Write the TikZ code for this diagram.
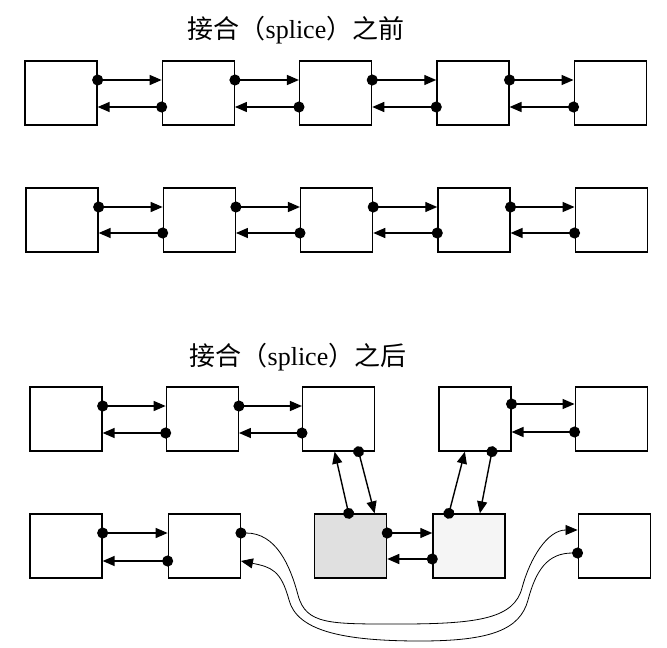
\documentclass[tikz,border=0pt]{standalone}
\usepackage{fontspec}
\setmainfont{Liberation Serif}
\newfontfamily\cjk{Noto Sans CJK SC}
\usetikzlibrary{arrows.meta, positioning}

\begin{document}
\begin{tikzpicture}[
    x=1pt, y=-1pt,
    node distance=64pt,
    >={Triangle[length=12pt,width=10pt]},
    cell/.style={rectangle, draw=black, line width=1.3pt, minimum width=72pt, minimum height=64pt, inner sep=0pt},
    shaded/.style={cell, fill=black!12},
    title/.style={font=\fontsize{26}{30}\selectfont},
    link/.style={{Circle[length=11pt]}->, line width=1.4pt, shorten <=-5.5pt},
    wire/.style={{Circle[length=11pt]}->, line width=0.8pt, shorten <=-5.5pt}
]
\useasboundingbox (0,0) rectangle (667,648);

% 1. before
\node[title] (before) at (296,30) {{\cjk 接合（}splice{\cjk ）之前}};

\node[cell] (a1) at (61,93) {};
\node[cell, right=of a1] (a2) {};
\node[cell, right=of a2] (a3) {};
\node[cell, right=of a3] (a4) {};
\node[cell, right=of a4] (a5) {};

\node[cell] (b1) at (62,220) {};
\node[cell, right=of b1] (b2) {};
\node[cell, right=of b2] (b3) {};
\node[cell, right=of b3] (b4) {};
\node[cell, right=of b4] (b5) {};

% 2. after
\node[title] (after) at (298,357) {{\cjk 接合（}splice{\cjk ）之后}};

\node[cell] (c1) at (66,419) {};
\node[cell, right=63pt of c1] (c2) {};
\node[cell, right=63pt of c2] (c3) {};
\node[cell, right=63pt of c3] (c4) {};
\node[cell, right=63pt of c4] (c5) {};

\node[cell] (d1) at (66,546) {};
\node[cell, right=65pt of d1] (d2) {};
\node[shaded, right=73pt of d2] (d3) {};
\node[cell, fill=black!4, right=45pt of d3] (d4) {};
\node[cell, right=72pt of d4] (d5) {};

% bends of the long links
\coordinate (bend1) at (298,595);
\coordinate (dip1) at (400,624);
\coordinate (bend2) at (522,588);
\coordinate (bend3) at (528,600);
\coordinate (dip2) at (420,641);
\coordinate (bend4) at (289,600);

% links - before
\draw[link] ([yshift=13pt]a1.east) -- ([yshift=13pt]a2.west);
\draw[link] ([yshift=-14pt]a2.west) -- ([yshift=-14pt]a1.east);
\draw[link] ([yshift=13pt]a2.east) -- ([yshift=13pt]a3.west);
\draw[link] ([yshift=-14pt]a3.west) -- ([yshift=-14pt]a2.east);
\draw[link] ([yshift=13pt]a3.east) -- ([yshift=13pt]a4.west);
\draw[link] ([yshift=-14pt]a4.west) -- ([yshift=-14pt]a3.east);
\draw[link] ([yshift=13pt]a4.east) -- ([yshift=13pt]a5.west);
\draw[link] ([yshift=-14pt]a5.west) -- ([yshift=-14pt]a4.east);

\draw[link] ([yshift=13pt]b1.east) -- ([yshift=13pt]b2.west);
\draw[link] ([yshift=-13pt]b2.west) -- ([yshift=-13pt]b1.east);
\draw[link] ([yshift=13pt]b2.east) -- ([yshift=13pt]b3.west);
\draw[link] ([yshift=-13pt]b3.west) -- ([yshift=-13pt]b2.east);
\draw[link] ([yshift=13pt]b3.east) -- ([yshift=13pt]b4.west);
\draw[link] ([yshift=-13pt]b4.west) -- ([yshift=-13pt]b3.east);
\draw[link] ([yshift=13pt]b4.east) -- ([yshift=13pt]b5.west);
\draw[link] ([yshift=-13pt]b5.west) -- ([yshift=-13pt]b4.east);

% links - after
\draw[link] ([yshift=13pt]c1.east) -- ([yshift=13pt]c2.west);
\draw[link] ([yshift=-14pt]c2.west) -- ([yshift=-14pt]c1.east);
\draw[link] ([yshift=13pt]c2.east) -- ([yshift=13pt]c3.west);
\draw[link] ([yshift=-14pt]c3.west) -- ([yshift=-14pt]c2.east);
\draw[link] ([yshift=15pt]c4.east) -- ([yshift=15pt]c5.west);
\draw[link] ([yshift=-13pt]c5.west) -- ([yshift=-13pt]c4.east);

\draw[link] ([yshift=13pt]d1.east) -- ([yshift=13pt]d2.west);
\draw[link] ([yshift=-15pt]d2.west) -- ([yshift=-15pt]d1.east);
\draw[link] ([yshift=13pt]d3.east) -- ([yshift=13pt]d4.west);
\draw[link] ([yshift=-13pt]d4.west) -- ([yshift=-13pt]d3.east);

% spliced segment
\draw[link] ([xshift=20pt]c3.south) -- ([xshift=24pt]d3.north);
\draw[link] ([xshift=-2pt]d3.north) -- ([xshift=-4pt]c3.south);
\draw[link] ([xshift=17pt]c4.south) -- ([xshift=11pt]d4.north);
\draw[link] ([xshift=-20pt]d4.north) -- ([xshift=-10pt]c4.south);

\draw[wire] ([yshift=13pt]d2.east) .. controls +(35,0) and +(-8,-30) .. (bend1)
    .. controls +(8,30) and +(-70,0) .. (dip1)
    .. controls +(80,0) and +(-8,30) .. (bend2)
    .. controls +(8,-30) and +(-30,0) .. ([yshift=16pt]d5.west);
\draw[wire] ([yshift=-7pt]d5.west) .. controls +(-30,0) and +(8,-30) .. (bend3)
    .. controls +(-8,30) and +(70,0) .. (dip2)
    .. controls +(-80,0) and +(8,30) .. (bend4)
    .. controls +(-8,-30) and +(30,6) .. ([yshift=-15pt]d2.east);

\end{tikzpicture}
\end{document}
